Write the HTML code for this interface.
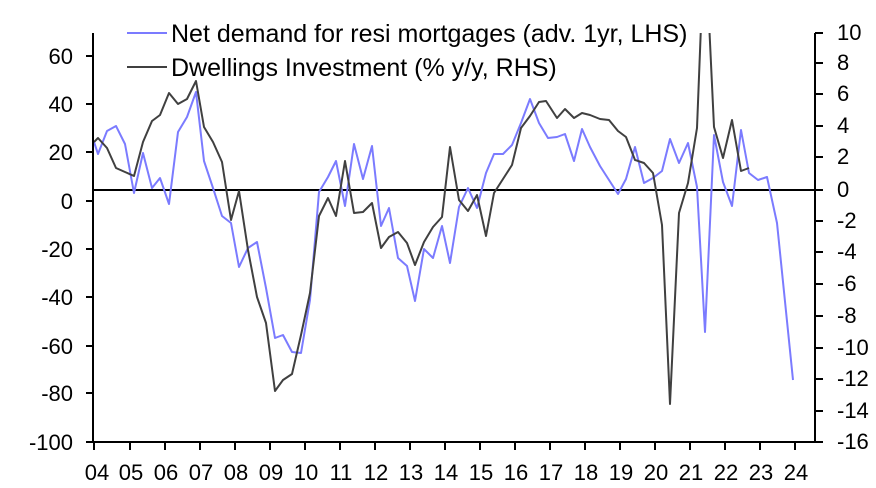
<!DOCTYPE html><html><head><style>body{margin:0;background:#fff}svg{display:block}text{font-family:"Liberation Sans",Arial,sans-serif;font-size:22px;fill:#000}text.lg{font-size:25px}</style></head><body>
<svg width="876" height="488" viewBox="0 0 876 488">
<defs><clipPath id="c"><rect x="94" y="33" width="721" height="409"/></clipPath></defs>
<g stroke="#000" stroke-width="2" fill="none">
<line x1="93" y1="33" x2="93" y2="443"/><line x1="815" y1="33" x2="815" y2="443"/><line x1="92" y1="442" x2="816" y2="442"/>
<line x1="94" y1="190" x2="815" y2="190"/>
<path d="M86 56H93M86 104H93M86 152H93M86 201H93M86 249H93M86 297H93M86 346H93M86 393H93M86 442H93"/>
<path d="M815 33H823M815 63H823M815 94H823M815 126H823M815 157H823M815 190H823M815 221H823M815 252H823M815 284H823M815 316H823M815 348H823M815 379H823M815 411H823M815 442H823"/>
<path d="M94 442V450M130 442V450M165 442V450M200 442V450M235 442V450M270 442V450M305 442V450M340 442V450M375 442V450M410 442V450M445 442V450M480 442V450M515 442V450M550 442V450M585 442V450M620 442V450M655 442V450M690 442V450M725 442V450M760 442V450M795 442V450"/>
</g>
<g clip-path="url(#c)" fill="none" stroke-width="2" stroke-linejoin="round">
<polyline stroke="#7b7bff" points="94,142 98,154 107,131 116,126 125,144 134,193 143,153 152,188 160,178 169,204 178,132 187,117 196,92 204,161 213,188 222,216 231,223 239,267 248,248 257,242 266,288 275,338 283,335 292,352 301,353 310,300 319,192 328,177 336,161 345,206 354,144 363,179 372,146 381,226 389,208 398,258 407,266 415,301 424,249 433,258 442,226 450,263 459,207 468,188 477,208 486,173 494,154 503,154 512,145 521,123 530,99 539,123 548,138 557,137 565,134 574,161 582,129 590,147 600,166 609,180 618,194 626,179 635,147 644,183 653,178 662,171 670,139 679,163 688,143 697,187 705,332 714,135 723,182 732,206 741,130 749,173 758,180 767,177 777,223 793,380"/>
<polyline stroke="#404040" points="94,142 98,138 107,148 116,168 125,172 134,176 143,142 152,121 160,115 169,93 178,104 187,99 196,81 204,127 213,142 222,162 231,220 239,191 248,250 257,297 266,323 275,391 283,380 292,374 301,335 310,293 319,216 328,198 336,216 345,161 354,213 363,212 372,203 381,248 389,237 398,232 407,243 415,265 424,242 433,227 442,217 450,147 459,200 468,211 477,195 486,236 494,193 503,179 512,165 521,128 530,116 539,102 546,101 557,118 565,109 574,118 582,113 590,115 600,119 609,120 618,131 626,137 635,160 644,163 653,173 662,225 670,404 679,213 688,183 697,128 702,0 708,0 714,127 723,158 732,120 741,171 749,168"/>
</g>
<line x1="127" y1="33" x2="167" y2="33" stroke="#7b7bff" stroke-width="2"/>
<line x1="127" y1="67" x2="167" y2="67" stroke="#404040" stroke-width="2"/>
<text class="lg" x="171" y="42">Net demand for resi mortgages (adv. 1yr, LHS)</text>
<text class="lg" x="171" y="76">Dwellings Investment (% y/y, RHS)</text>
<g text-anchor="end">
<text x="73" y="64">60</text><text x="73" y="112">40</text><text x="73" y="160">20</text><text x="73" y="209">0</text><text x="73" y="257">-20</text><text x="73" y="305">-40</text><text x="73" y="354">-60</text><text x="73" y="401">-80</text><text x="73" y="450">-100</text>
</g>
<g>
<text x="837" y="40">10</text><text x="837" y="70">8</text><text x="837" y="101">6</text><text x="837" y="133">4</text><text x="837" y="164">2</text><text x="837" y="197">0</text><text x="837" y="228">-2</text><text x="837" y="259">-4</text><text x="837" y="291">-6</text><text x="837" y="323">-8</text><text x="837" y="355">-10</text><text x="837" y="386">-12</text><text x="837" y="418">-14</text><text x="837" y="449">-16</text>
</g>
<g text-anchor="middle" style="font-size:23px">
<text x="97" y="480">04</text><text x="131" y="480">05</text><text x="166" y="480">06</text><text x="201" y="480">07</text><text x="236" y="480">08</text><text x="271" y="480">09</text><text x="306" y="480">10</text><text x="341" y="480">11</text><text x="376" y="480">12</text><text x="411" y="480">13</text><text x="446" y="480">14</text><text x="481" y="480">15</text><text x="516" y="480">16</text><text x="551" y="480">17</text><text x="586" y="480">18</text><text x="621" y="480">19</text><text x="656" y="480">20</text><text x="691" y="480">21</text><text x="726" y="480">22</text><text x="761" y="480">23</text><text x="796" y="480">24</text>
</g>
</svg></body></html>
